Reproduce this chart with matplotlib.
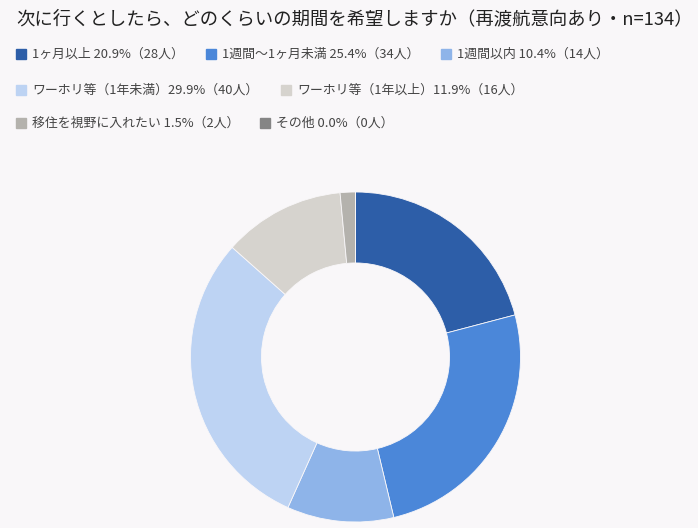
import matplotlib.pyplot as plt
from matplotlib.patches import Rectangle

plt.rcParams['font.family'] = ['Noto Sans CJK JP', 'DejaVu Sans']

title = "次に行くとしたら、どのくらいの期間を希望しますか（再渡航意向あり・n=134）"
labels = ["1ヶ月以上", "1週間〜1ヶ月未満", "1週間以内", "ワーホリ等（1年未満）",
          "ワーホリ等（1年以上）", "移住を視野に入れたい", "その他"]
percents = ["20.9%", "25.4%", "10.4%", "29.9%", "11.9%", "1.5%", "0.0%"]
counts = [28, 34, 14, 40, 16, 2, 0]
colors = ["#2d5ea8", "#4b87d9", "#8eb4e9", "#bdd3f3", "#d6d3ce", "#b4b2ad", "#858585"]

W, H = 698, 528
bg = "#f9f7f9"
fig = plt.figure(figsize=(W / 100, H / 100), dpi=100, facecolor=bg)

def fx(px):
    return px / W

def fy(py):
    return 1 - py / H

fig.text(fx(16), fy(19), title, fontsize=13.2, fontweight='normal', color='#222222',
         va='center', ha='left')

# legend layout (pixel positions of marker left edges per row)
rows = [[(16, 0), (206, 1), (441, 2)],
        [(16, 3), (281, 4)],
        [(16, 5), (260, 6)]]
row_y = [54, 90, 123]
for ry, row in zip(row_y, rows):
    for mx, i in row:
        fig.patches.append(Rectangle((fx(mx), fy(ry + 5)), fx(10), 10 / H,
                                     transform=fig.transFigure, color=colors[i]))
        sep = "" if labels[i].endswith("）") else " "
        txt = f"{labels[i]}{sep}{percents[i]}（{counts[i]}人）"
        fig.text(fx(mx + 16), fy(ry), txt, fontsize=9.3, color='#444444',
                 va='center', ha='left')

ax = fig.add_axes([fx(190.5), 1 - 522 / H, 330 / W, 330 / H])
ax.set_facecolor(bg)
ax.pie(counts, colors=colors, startangle=90, counterclock=False, radius=1,
       wedgeprops=dict(width=0.43, edgecolor=bg, linewidth=0.6))
ax.set_xlim(-1, 1)
ax.set_ylim(-1, 1)
ax.axis('off')

fig.savefig("out.png", dpi=100, facecolor=bg)
